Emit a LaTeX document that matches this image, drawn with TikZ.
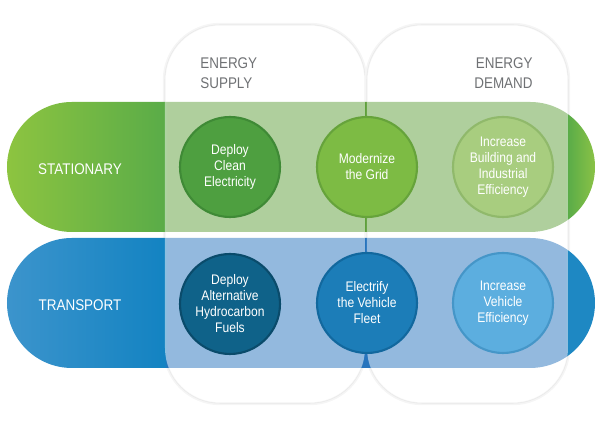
\documentclass[tikz,border=0pt]{standalone}
\usepackage{fontspec}
\setmainfont{Liberation Sans}[FakeStretch=0.87]

\definecolor{statlight}{HTML}{8DC440}
\definecolor{statdark}{HTML}{5AAC48}
\definecolor{statmid}{HTML}{5FA03C}
\definecolor{statend}{HTML}{8AC246}
\definecolor{translight}{HTML}{3C94CC}
\definecolor{transdark}{HTML}{1383C2}
\definecolor{transmid}{HTML}{2774BD}
\definecolor{transend}{HTML}{1E88C3}
\definecolor{headgray}{HTML}{6F7174}
\definecolor{cleanfill}{HTML}{4E9F40}
\definecolor{cleanrim}{HTML}{3F8A36}
\definecolor{gridfill}{HTML}{7DBB44}
\definecolor{gridrim}{HTML}{66A33B}
\definecolor{buildfill}{HTML}{A8CD7F}
\definecolor{buildrim}{HTML}{90B96B}
\definecolor{fuelfill}{HTML}{0F6289}
\definecolor{fuelrim}{HTML}{0A4B6B}
\definecolor{elecfill}{HTML}{1C7DB8}
\definecolor{elecrim}{HTML}{12689E}
\definecolor{vehfill}{HTML}{5CAEDF}
\definecolor{vehrim}{HTML}{4596C8}

\pgfdeclarehorizontalshading{statfade}{100bp}{color(0bp)=(statlight); color(25bp)=(statlight); color(38.4bp)=(statdark); color(38.6bp)=(statmid); color(72.5bp)=(statmid); color(72.7bp)=(statdark); color(75bp)=(statend); color(100bp)=(statend)}
\pgfdeclarehorizontalshading{transfade}{100bp}{color(0bp)=(translight); color(25bp)=(translight); color(38.4bp)=(transdark); color(38.6bp)=(transmid); color(72.5bp)=(transmid); color(72.7bp)=(transend); color(75bp)=(transend); color(100bp)=(transend)}

\begin{document}
\begin{tikzpicture}[x=0.02cm,y=-0.02cm,
    colbox/.style={rounded corners=1.1cm},
    band/.style={rounded corners=1.3cm},
    bubble/.style={circle,minimum size=2cm,inner sep=0pt,line width=1.2pt,text=white,align=center,
      font=\fontsize{7.9}{9.1}\selectfont},
    rowlabel/.style={text=white,inner sep=0pt,font=\fontsize{8.8}{11}\selectfont},
    colhead/.style={text=headgray,inner sep=0pt,font=\fontsize{8.8}{11.3}\selectfont}]
    \useasboundingbox (0,0) rectangle (600,428);
    % Column frames with a faint shadow
    \foreach \l/\r in {165/365,367/568} {
      \draw[black!4,line width=2.5pt,colbox] (\l,25) rectangle (\r,403);
      \draw[black!9,line width=0.6pt,fill=white,colbox] (\l,25) rectangle (\r,403);
    }
    % Two rows
    \shade[shading=statfade,band] (7,102) rectangle (595,232);
    \shade[shading=transfade,band] (7,238) rectangle (595,368);
    % Wash the rows where the columns cross them
    \foreach \l/\r in {165/365,367/568} {
      \fill[white,fill opacity=0.5,colbox] (\l,25) rectangle (\r,403);
    }
    % Headings
    \node[colhead,anchor=west,align=left] (supply) at (200,73) {ENERGY\\SUPPLY};
    \node[colhead,anchor=east,align=right] (demand) at (533,73) {ENERGY\\DEMAND};
    \node[rowlabel] (stationary) at (80,169) {STATIONARY};
    \node[rowlabel] (transport) at (80,305) {TRANSPORT};
    % Actions
    \node[bubble,fill=cleanfill,draw=cleanrim] (cleanelec) at (230,167) {Deploy\\Clean\\Electricity};
    \node[bubble,fill=gridfill,draw=gridrim] (grid) at (367,167) {Modernize\\the Grid};
    \node[bubble,fill=buildfill,draw=buildrim] (building) at (503,167) {Increase\\Building and\\Industrial\\Efficiency};
    \node[bubble,fill=fuelfill,draw=fuelrim] (altfuel) at (230,304) {Deploy\\Alternative\\Hydrocarbon\\Fuels};
    \node[bubble,fill=elecfill,draw=elecrim] (electrify) at (367,303) {Electrify\\the Vehicle\\Fleet};
    \node[bubble,fill=vehfill,draw=vehrim] (vehicle) at (503,303) {Increase\\Vehicle\\Efficiency};
\end{tikzpicture}
\end{document}
